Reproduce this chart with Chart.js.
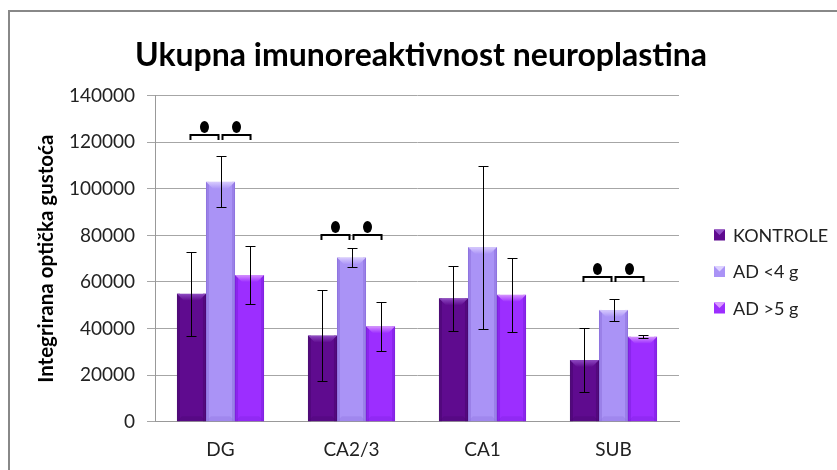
<!DOCTYPE html>
<html>
<head>
<meta charset="utf-8">
<script src="https://cdn.jsdelivr.net/npm/chart.js@4.4.1/dist/chart.umd.min.js"></script>
<style>
  html, body { margin: 0; padding: 0; background: #fff; }
  #wrap { width: 837px; height: 470px; }
</style>
</head>
<body>
<div id="wrap"><canvas id="myChart" width="837" height="470"></canvas></div>
<script>
// data
const chartTitle = 'Ukupna imunoreaktivnost neuroplastina';
const categories = ['DG', 'CA2/3', 'CA1', 'SUB'];
const seriesNames = ['KONTROLE', 'AD <4 g', 'AD >5 g'];
const kontrole = [55000, 37000, 53000, 26500];
const adBelow4 = [103000, 70500, 75000, 48000];
const adAbove5 = [63000, 41000, 54500, 36500];
const kontroleErr = [18000, 19500, 14000, 13700];
const adBelow4Err = [11000, 4000, 35000, 4700];
const adAbove5Err = [12500, 10500, 16000, 700];
const sigLevel = [123000, 80000, null, 62000]; // height of the significance brackets
const yTicks = ['0', '20000', '40000', '60000', '80000', '100000', '120000', '140000'];

const colors = ['#5f0b8f', '#aa93f6', '#9c2eff'];
const lightTops = ['#9350c8', '#ddd2ff', '#dc9cff'];
const darkEdges = ['#4a0672', '#8f74e0', '#7f1fe0'];
const errors = [kontroleErr, adBelow4Err, adAbove5Err];

Chart.defaults.font.family = 'Lato';
Chart.defaults.color = '#222';

// frame + title of the original picture
const framePlugin = {
    id: 'frame',
    beforeDraw(chart) {
        const ctx = chart.ctx;
        ctx.save();
        ctx.fillStyle = '#fff';
        ctx.fillRect(0, 0, chart.width, chart.height);
        ctx.strokeStyle = '#888';
        ctx.lineWidth = 2;
        ctx.beginPath();
        ctx.moveTo(9, chart.height);
        ctx.lineTo(9, 11);
        ctx.lineTo(chart.width, 11);
        ctx.stroke();
        ctx.fillStyle = '#000';
        ctx.font = 'bold 32px Lato';
        ctx.textAlign = 'center';
        ctx.textBaseline = 'alphabetic';
        ctx.fillText(chartTitle, 421, 66);
        ctx.restore();
    }
};

// bevel look, error bars and the brackets
const extrasPlugin = {
    id: 'extras',
    afterDatasetsDraw(chart) {
        const ctx = chart.ctx;
        const yScale = chart.scales.y;
        ctx.save();
        chart.data.datasets.forEach((ds, di) => {
            const meta = chart.getDatasetMeta(di);
            meta.data.forEach(bar => {
                const l = bar.x - bar.width / 2, r = bar.x + bar.width / 2;
                const t = bar.y, b = bar.base;
                const h = 7;
                // side shading
                ctx.fillStyle = darkEdges[di];
                ctx.globalAlpha = 0.6;
                ctx.fillRect(l, t, 3, b - t);
                ctx.fillRect(r - 3, t, 3, b - t);
                // bottom bevel
                ctx.beginPath();
                ctx.moveTo(l, b);
                ctx.lineTo(r, b);
                ctx.lineTo(r - 5, b - 5);
                ctx.lineTo(l + 5, b - 5);
                ctx.closePath();
                ctx.globalAlpha = 0.35;
                ctx.fill();
                // top bevel
                ctx.globalAlpha = 0.9;
                const g = ctx.createLinearGradient(0, t, 0, t + h);
                g.addColorStop(0, lightTops[di]);
                g.addColorStop(1, colors[di]);
                ctx.fillStyle = g;
                ctx.beginPath();
                ctx.moveTo(l, t);
                ctx.lineTo(r, t);
                ctx.lineTo(r - h, t + h);
                ctx.lineTo(l + h, t + h);
                ctx.closePath();
                ctx.fill();
                ctx.globalAlpha = 1;
            });
        });

        // error bars
        ctx.strokeStyle = '#000';
        ctx.lineWidth = 1;
        chart.data.datasets.forEach((ds, di) => {
            const meta = chart.getDatasetMeta(di);
            meta.data.forEach((bar, i) => {
                const v = ds.data[i];
                const e = errors[di][i];
                const x = Math.round(bar.x) + 0.5;
                const yt = Math.round(yScale.getPixelForValue(v + e)) + 0.5;
                const yb = Math.round(yScale.getPixelForValue(v - e)) + 0.5;
                ctx.beginPath();
                ctx.moveTo(x, yt); ctx.lineTo(x, yb);
                ctx.moveTo(x - 5, yt); ctx.lineTo(x + 5, yt);
                ctx.moveTo(x - 5, yb); ctx.lineTo(x + 5, yb);
                ctx.stroke();
            });
        });

        // significance brackets
        ctx.lineWidth = 2;
        ctx.fillStyle = '#000';
        sigLevel.forEach((lvl, i) => {
            if (lvl === null) return;
            const y = Math.round(yScale.getPixelForValue(lvl));
            const xs = [0, 1, 2].map(d => chart.getDatasetMeta(d).data[i].x);
            const spans = [[xs[0] - 1, xs[1] - 2], [xs[1] + 2, xs[2] + 1]];
            spans.forEach(([a, b]) => {
                ctx.beginPath();
                ctx.moveTo(a, y + 5);
                ctx.lineTo(a, y);
                ctx.lineTo(b, y);
                ctx.lineTo(b, y + 5);
                ctx.stroke();
                ctx.beginPath();
                ctx.ellipse((a + b) / 2, y - 8, 4.5, 6, 0, 0, Math.PI * 2);
                ctx.fill();
            });
        });
        ctx.restore();
    },
    afterDraw(chart) {
        // legend on the right
        const ctx = chart.ctx;
        ctx.save();
        ctx.font = '18px Lato';
        ctx.textBaseline = 'middle';
        chart.data.datasets.forEach((ds, di) => {
            const y = 235 + di * 36.5;
            ctx.fillStyle = colors[di];
            ctx.fillRect(714, y - 5.5, 11, 11);
            ctx.fillStyle = lightTops[di];
            ctx.beginPath();
            ctx.moveTo(714, y - 5.5);
            ctx.lineTo(725, y - 5.5);
            ctx.lineTo(719.5, y);
            ctx.closePath();
            ctx.fill();
            ctx.fillStyle = '#222';
            ctx.fillText(ds.label, 733, y + 1);
        });
        ctx.restore();
    }
};

const ctx = document.getElementById('myChart').getContext('2d');

const myChart = new Chart(ctx, {
    type: 'bar',
    data: {
        labels: categories,
        datasets: [
            { label: seriesNames[0], data: kontrole, backgroundColor: colors[0], borderColor: darkEdges[0], borderWidth: 1 },
            { label: seriesNames[1], data: adBelow4, backgroundColor: colors[1], borderColor: darkEdges[1], borderWidth: 1 },
            { label: seriesNames[2], data: adAbove5, backgroundColor: colors[2], borderColor: darkEdges[2], borderWidth: 1 }
        ]
    },
    options: {
        responsive: false,
        animation: false,
        layout: { padding: { left: 0, right: 158, top: 95.7, bottom: 0 } },
        datasets: {
            bar: { categoryPercentage: 0.665, barPercentage: 1.0 }
        },
        scales: {
            x: {
                grid: { display: false, drawTicks: false },
                border: { display: true, color: '#999' },
                ticks: { font: { size: 19 }, padding: 17, color: '#222' },
                afterFit(scale) { scale.height = 48.3; }
            },
            y: {
                min: 0,
                max: 140000,
                ticks: {
                    stepSize: 20000,
                    padding: 12,
                    font: { size: 19 },
                    color: '#222',
                    callback: (v, i) => yTicks[i]
                },
                grid: { color: '#a6a6a6', tickLength: 8 },
                border: { display: true, color: '#999' },
                title: {
                    display: true,
                    text: 'Integrirana optička gustoća',
                    font: { size: 20.5, weight: 'bold' },
                    color: '#000',
                    padding: { top: 34.5, bottom: 0 }
                },
                afterFit(scale) { scale.width = 155; }
            }
        },
        plugins: {
            legend: { display: false },
            tooltip: { enabled: false },
            title: { display: false }
        }
    },
    plugins: [framePlugin, extrasPlugin]
});
</script>
</body>
</html>
